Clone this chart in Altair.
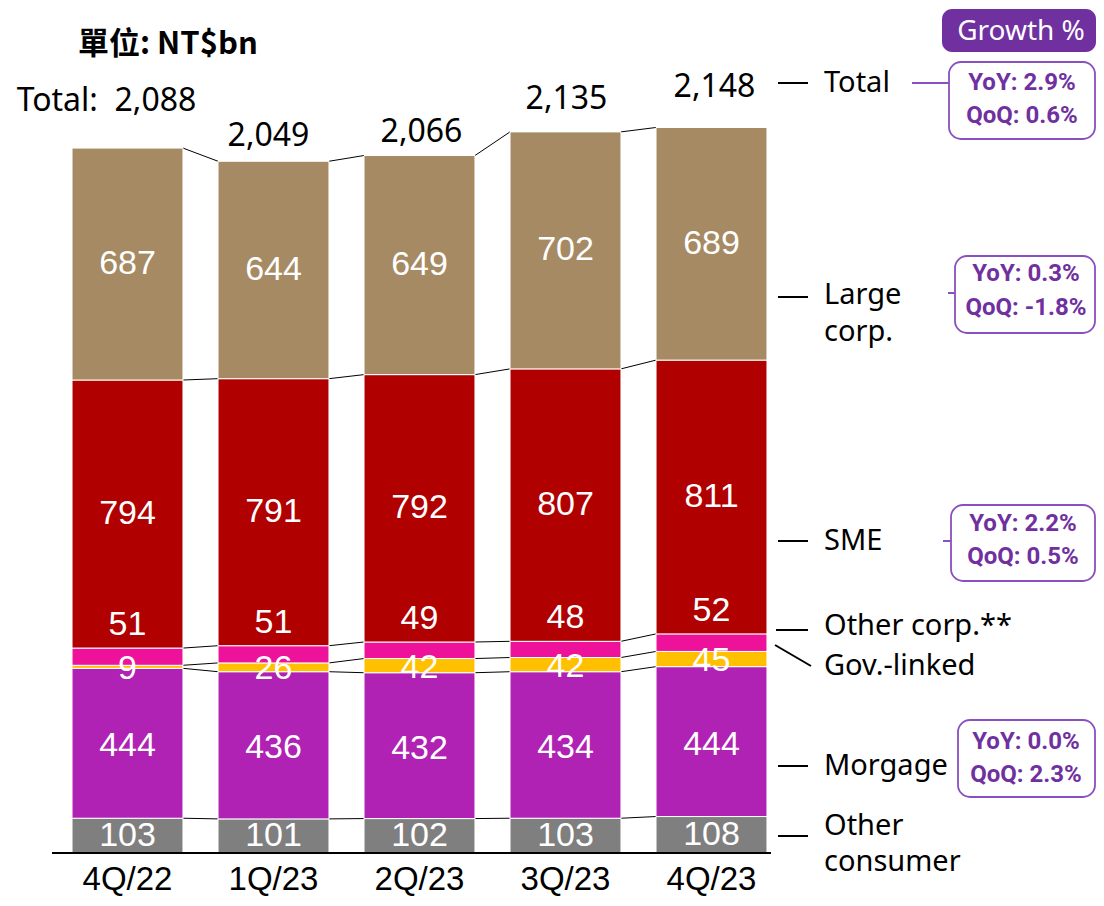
import altair as alt
import pandas as pd

# ---------------- data ----------------
quarters = ["4Q/22", "1Q/23", "2Q/23", "3Q/23", "4Q/23"]
other_consumer = [103, 101, 102, 103, 108]
morgage = [444, 436, 432, 434, 444]
gov_linked = [9, 26, 42, 42, 45]
other_corp = [51, 51, 49, 48, 52]
sme = [794, 791, 792, 807, 811]
large_corp = [687, 644, 649, 702, 689]
total_labels = ["Total:\u00a0\u00a02,088", "2,049", "2,066", "2,135", "2,148"]

segment_names = ["Other consumer", "Morgage", "Gov.-linked", "Other corp.", "SME", "Large corp."]
segment_values = [other_consumer, morgage, gov_linked, other_corp, sme, large_corp]
segment_colors = ["#7F7F7F", "#B022B4", "#FFC000", "#EE1199", "#B00000", "#A68A64"]

growth_title = "Growth %"
growth_total = ["YoY: 2.9%", "QoQ: 0.6%"]
growth_large = ["YoY: 0.3%", "QoQ: -1.8%"]
growth_sme = ["YoY: 2.2%", "QoQ: 0.5%"]
growth_morg = ["YoY: 0.0%", "QoQ: 2.3%"]

# ---------------- layout (pixels in plot area) ----------------
W, H = 1088, 890
K = 0.3376          # px per NT$bn
BASE = 845          # pixel y of zero
C0, STEP = 119.5, 146.0
HW = 0.38           # half bar width in band units

xscale = alt.Scale(domain=[(0 - C0) / STEP, (W - C0) / STEP], nice=False, zero=False)
yscale = alt.Scale(domain=[(BASE - H) / K, BASE / K], nice=False, zero=False)

seg_label_dy = {"Other consumer": 0, "Morgage": -3, "Gov.-linked": -2,
                "Other corp.": None, "SME": 0, "Large corp.": 0}
total_label_dy = [47, 25, 24, 33, 40]
total_label_dx = [-21, -5, 2, 1, 3]

rows, bounds = [], []
for i, q in enumerate(quarters):
    cum = 0
    b = []
    for name, vals in zip(segment_names, segment_values):
        v = vals[i]
        y0, y1 = cum, cum + v
        cum = y1
        b.append(y1)
        if name == "Other corp.":
            ly = y1 + 23 / K
        else:
            ly = (y0 + y1) / 2 + seg_label_dy[name] / K
        rows.append(dict(quarter=q, idx=i, segment=name, value=v, y0=y0, y1=y1,
                         ly=ly, lbl=str(v), xl=i - HW, xr=i + HW))
    bounds.append(b)
df = pd.DataFrame(rows)

tot = pd.DataFrame(dict(idx=[i + total_label_dx[i] / STEP for i in range(5)],
                        y=[bounds[i][-1] + total_label_dy[i] / K for i in range(5)],
                        lbl=total_labels))

conn_rows = []
for bi in range(len(segment_names)):
    for i in range(4):
        conn_rows.append(dict(x=i + HW, x2=i + 1 - HW, y=bounds[i][bi], y2=bounds[i + 1][bi]))
conn = pd.DataFrame(conn_rows)

axis_df = pd.DataFrame(dict(idx=list(range(5)), q=quarters, y=[-27 / K] * 5))

bars = alt.Chart(df).mark_bar(stroke="white", strokeWidth=1).encode(
    x=alt.X("xl:Q", scale=xscale, axis=None),
    x2="xr:Q",
    y=alt.Y("y0:Q", scale=yscale, axis=None),
    y2="y1:Q",
    color=alt.Color("segment:N", scale=alt.Scale(domain=segment_names, range=segment_colors), legend=None),
)

seg_text = alt.Chart(df).mark_text(color="white", font="Liberation Sans", fontSize=34,
                                   baseline="middle", align="center").encode(
    x=alt.X("idx:Q", scale=xscale, axis=None),
    y=alt.Y("ly:Q", scale=yscale, axis=None),
    text="lbl:N",
)

connectors = alt.Chart(conn).mark_rule(color="black", strokeWidth=1).encode(
    x=alt.X("x:Q", scale=xscale, axis=None), x2="x2:Q",
    y=alt.Y("y:Q", scale=yscale, axis=None), y2="y2:Q",
)

tot_text = alt.Chart(tot).mark_text(color="black", font="Noto Sans", fontSize=32,
                                    baseline="middle", align="center").encode(
    x=alt.X("idx:Q", scale=xscale, axis=None),
    y=alt.Y("y:Q", scale=yscale, axis=None),
    text="lbl:N",
)

axis_text = alt.Chart(axis_df).mark_text(color="black", font="Liberation Sans", fontSize=33,
                                         baseline="middle", align="center").encode(
    x=alt.X("idx:Q", scale=xscale, axis=None),
    y=alt.Y("y:Q", scale=yscale, axis=None),
    text="q:N",
)

dummy = pd.DataFrame({"d": [0]})


def txt(s, x, y, **kw):
    return alt.Chart(dummy).mark_text(baseline="middle", **kw).encode(
        x=alt.value(x), y=alt.value(y), text=alt.value(s))


def rule(x1, y1, x2, y2, color="black", w=2):
    return alt.Chart(dummy).mark_rule(color=color, strokeWidth=w).encode(
        x=alt.value(x1), y=alt.value(y1), x2=alt.value(x2), y2=alt.value(y2))


def rect(x1, y1, x2, y2, **kw):
    return alt.Chart(dummy).mark_rect(**kw).encode(
        x=alt.value(x1), y=alt.value(y1), x2=alt.value(x2), y2=alt.value(y2))


ann = []
ann.append(rule(44, BASE, 763, BASE, w=2))
ann.append(txt("單位: NT$bn", 70, 37, align="left", font="Noto Sans CJK TC", fontSize=31,
               fontWeight="bold", color="black"))

lab_kw = dict(align="left", font="Noto Sans", fontSize=29, color="black")
ann += [rule(770, 75, 800, 75), txt("Total", 816, 75, **lab_kw)]
ann += [rule(770, 289, 800, 289), txt("Large", 816, 287, **lab_kw), txt("corp.", 816, 324, **lab_kw)]
ann += [rule(770, 533, 800, 533), txt("SME", 816, 533, **lab_kw)]
ann += [rule(768, 622, 800, 622), txt("Other corp.**", 816, 618, **lab_kw)]
ann += [rule(767, 637, 803, 658), txt("Gov.-linked", 816, 658, **lab_kw)]
ann += [rule(770, 758, 800, 758), txt("Morgage", 816, 758, **lab_kw)]
ann += [rule(770, 828, 800, 828), txt("Other", 816, 818, **lab_kw), txt("consumer", 816, 854, **lab_kw)]

PURPLE = "#7030A0"
BORDER = "#8A4FC0"
ann.append(rect(934, 1, 1088, 44, fill=PURPLE, cornerRadius=10))
ann.append(txt(growth_title, 1013, 24, align="center", font="Noto Sans", fontSize=28, color="white"))

gkw = dict(align="center", font="Roboto", fontSize=24, fontWeight="bold", color=PURPLE)


def gbox(x1, y1, x2, y2, lines, cx, ty, conn=None):
    out = []
    if conn:
        out.append(rule(conn[0], conn[2], conn[1], conn[2], color=BORDER, w=2))
    out.append(rect(x1, y1, x2, y2, fill="white", stroke=BORDER, strokeWidth=1.8, cornerRadius=12))
    out.append(txt(lines[0], cx, ty[0], **gkw))
    out.append(txt(lines[1], cx, ty[1], **gkw))
    return out


ann += gbox(941, 54, 1087, 131, growth_total, 1014, (75, 108), conn=(904, 941, 75))
ann += gbox(947, 248, 1087, 325, growth_large, 1018, (266, 300), conn=(940, 947, 285))
ann += gbox(943, 497, 1087, 573, growth_sme, 1015, (516, 549), conn=(935, 943, 533))
ann += gbox(950, 712, 1087, 789, growth_morg, 1018, (734, 767))

chart = alt.layer(connectors, bars, seg_text, tot_text, axis_text, *ann).properties(
    width=W, height=H, padding=0, autosize=alt.AutoSizeParams(type="none"),
    background="white",
).configure_view(stroke=None)

chart.save("out.html", embed_options={"renderer": "svg", "actions": False})
